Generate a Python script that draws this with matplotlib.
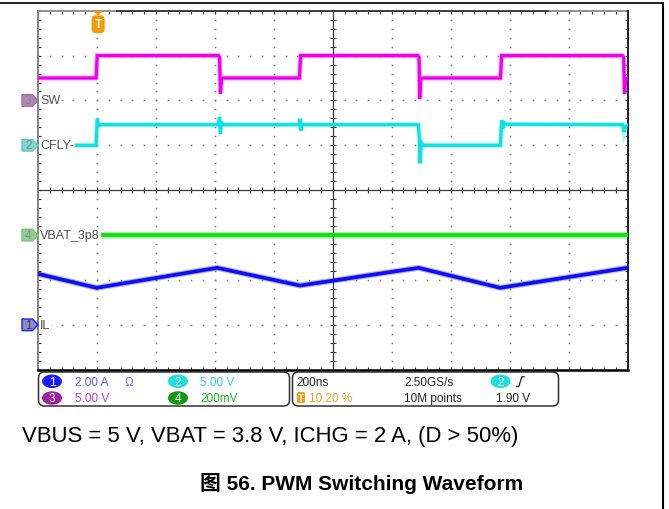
import matplotlib
matplotlib.use('Agg')
import matplotlib.pyplot as plt
import numpy as np
from matplotlib.patches import Polygon, FancyBboxPatch, Ellipse

# ---------------- data ----------------
ns_per_div = 200
n_hdiv = 10
n_vdiv = 8
trigger_pct = 10.20

# channel scales (per division) and ground-marker positions (divisions from bottom)
ch1_scale, ch1_pos = 2.0, 1.0    # IL, A/div
ch2_scale, ch2_pos = 5.0, 5.0    # CFLY-, V/div
ch3_scale, ch3_pos = 5.0, 6.0    # SW, V/div
ch4_scale, ch4_pos = 0.2, 3.0    # VBAT_3p8 (AC), V/div

# SW node (ch3), V vs ns
sw_t = [0, 197, 201, 612, 616, 619, 623, 629, 887, 891, 1289, 1293, 1295, 1299,
        1305, 1569, 1573, 1983, 1987, 1990, 1994, 2000]
sw_v = [2.5, 2.5, 5.0, 5.0, 4.8, 0.75, 2.4, 2.5, 2.5, 5.0, 5.0, 4.8, 0.2, 2.4,
        2.5, 2.5, 5.0, 5.0, 4.8, 0.75, 2.4, 2.5]

# CFLY- (ch2), V vs ns
cfly_t = [0, 197, 201, 206, 214, 612, 616, 619, 622, 627, 886, 889, 892, 896,
          1290, 1294, 1296, 1300, 1306, 1569, 1573, 1577, 1582, 1590, 1984, 1988,
          1993, 2000]
cfly_v = [0, 0, 2.95, 2.2, 2.3, 2.3, 3.15, 1.3, 2.6, 2.3, 2.3, 2.95, 1.65, 2.3,
          2.3, 0.8, -2.0, 0.3, 0.0, 0.0, 2.8, 1.9, 2.5, 2.35, 2.3, 1.5, 2.1, 2.2]

# VBAT ripple (ch4, AC coupled), V vs ns
vbat_t = [0, 2000]
vbat_v = [0.0, 0.0]

# inductor current (ch1), A vs ns
il_t = [0, 199, 608, 889, 1291, 1568, 2000]
il_v = [2.27, 1.65, 2.54, 1.75, 2.54, 1.65, 2.54]

labels = {'SW': ch3_pos, 'CFLY-': ch2_pos, 'VBAT_3p8': ch4_pos, 'IL': ch1_pos}

caption = 'VBUS = 5 V, VBAT = 3.8 V, ICHG = 2 A, (D > 50%)'
title = '图 56. PWM Switching Waveform'

# ---------------- layout ----------------
W, H = 669, 510
fig = plt.figure(figsize=(W / 100, H / 100), dpi=100)
fig.patch.set_facecolor('white')

gl, gr, gt, gb = 38.0, 627.5, 11.7, 370.7       # grid box in pixels
ax = fig.add_axes([gl / W, (H - gb) / H, (gr - gl) / W, (gb - gt) / H])
tmax = ns_per_div * n_hdiv
ax.set_xlim(0, tmax)
ax.set_ylim(0, n_vdiv)
ax.axis('off')

px_x = (gr - gl) / tmax        # pixels per ns
px_y = (gb - gt) / n_vdiv      # pixels per div

SCREEN_FONT = ['Liberation Sans', 'DejaVu Sans']

# dotted graticule
minor_x = np.arange(0, tmax + 1e-6, ns_per_div / 5)
minor_y = np.arange(0, n_vdiv + 1e-6, 0.2)
dot = '#7a7a7a'
for k in range(1, n_hdiv):
    if k == n_hdiv // 2:
        continue
    ax.plot(np.full_like(minor_y, k * ns_per_div), minor_y, ls='none',
            marker='s', ms=1.1, mew=0, color=dot, zorder=1)
for k in range(1, n_vdiv):
    if k == n_vdiv // 2:
        continue
    ax.plot(minor_x, np.full_like(minor_x, k), ls='none', marker='s', ms=1.1,
            mew=0, color=dot, zorder=1)

# centre cross with ticks
ax.axvline(tmax / 2, color='#3a3a3a', lw=0.9, zorder=1)
ax.axhline(n_vdiv / 2, color='#3a3a3a', lw=0.9, zorder=1)
ax.plot(minor_x, np.full_like(minor_x, n_vdiv / 2), ls='none', marker='|',
        ms=4.5, mew=0.8, color='#3a3a3a', zorder=1)
ax.plot(np.full_like(minor_y, tmax / 2), minor_y, ls='none', marker='_',
        ms=4.5, mew=0.8, color='#3a3a3a', zorder=1)

# border ticks (half visible through clipping)
for yy in (0, n_vdiv):
    ax.plot(minor_x, np.full_like(minor_x, yy), ls='none', marker='|', ms=5,
            mew=0.8, color='#303030', zorder=1)
for xx in (0, tmax):
    ax.plot(np.full_like(minor_y, xx), minor_y, ls='none', marker='_', ms=5,
            mew=0.8, color='#303030', zorder=1)

# border lines
ax.plot([0, 0], [0, n_vdiv], color='#7a7a7a', lw=1.3, clip_on=False, zorder=2)
ax.plot([0, tmax], [n_vdiv, n_vdiv], color='#8a8a8a', lw=1.3, clip_on=False, zorder=2)
ax.plot([(117 - gl) / px_x, (548 - gl) / px_x], [n_vdiv, n_vdiv], color='#3a3a3a',
        lw=1.3, clip_on=False, zorder=2)
ax.plot([0, tmax], [0, 0], color='black', lw=1.8, clip_on=False, zorder=2)
ax.plot([tmax, tmax], [0, n_vdiv], color='#202020', lw=1.4, clip_on=False, zorder=2)


def trace(t, v, pos, scale, color, core, halo):
    y = pos + np.asarray(v, float) / scale
    ax.plot(t, y, color=color, lw=halo, alpha=0.3, solid_joinstyle='miter', zorder=3)
    ax.plot(t, y, color=color, lw=core, solid_joinstyle='miter', zorder=4)


trace(sw_t, sw_v, ch3_pos, ch3_scale, '#ee00ee', 2.3, 3.8)
trace(cfly_t, cfly_v, ch2_pos, ch2_scale, '#10e0e0', 2.3, 3.8)
trace(vbat_t, vbat_v, ch4_pos, ch4_scale, '#18e018', 3.0, 5.0)
trace(il_t, il_v, ch1_pos, ch1_scale, '#1010ee', 2.7, 4.3)

# trace labels (white background hides trace start)
for name, pos in labels.items():
    ax.text(7, pos, name, fontsize=9, family=SCREEN_FONT, color='#505050',
            va='center', ha='left', zorder=6,
            bbox=dict(boxstyle='square,pad=0.08', fc='white', ec='none'))

# channel ground markers (tags left of the graticule)
markers = [(ch3_pos, '3', '#b585b5', '#a070a0', '#8a8a8a'),
           (ch2_pos, '2', '#7fd4d4', '#6cc4c4', '#8a8a8a'),
           (ch4_pos, '4', '#8fd08f', '#7cc07c', '#8a8a8a'),
           (ch1_pos, '1', '#8c8cc8', '#1a1aff', '#404040')]
for pos, num, fc, ec, tc in markers:
    x0 = -16 / px_x
    xb = -5.5 / px_x
    hh = 5.8 / px_y
    poly = Polygon([(x0, pos - hh), (xb, pos - hh), (0, pos), (xb, pos + hh),
                    (x0, pos + hh)], closed=True, fc=fc, ec=ec, lw=1.0,
                   clip_on=False, zorder=6)
    ax.add_patch(poly)
    ax.text((x0 + xb) / 2 + 1 / px_x, pos, num, fontsize=8.5, family=SCREEN_FONT,
            color=tc, ha='center', va='center', clip_on=False, zorder=7)

# trigger marker
t_trig = trigger_pct / 100 * tmax
ax.add_patch(Polygon([(t_trig - 5 / px_x, n_vdiv), (t_trig + 5 / px_x, n_vdiv),
                      (t_trig, n_vdiv - 5 / px_y)], closed=True, fc='#f59a00',
                     ec='none', clip_on=False, zorder=6))
ax.text(t_trig, n_vdiv - 13.5 / px_y, 'T', fontsize=8.5, weight='bold',
        family=SCREEN_FONT, color='white', ha='center', va='center', zorder=7,
        bbox=dict(boxstyle='round,pad=0.25,rounding_size=0.35', fc='#f59a00',
                  ec='none'))

# ---------------- overlay in pixel coordinates ----------------
ov = fig.add_axes([0, 0, 1, 1], zorder=5)
ov.set_xlim(0, W)
ov.set_ylim(H, 0)
ov.axis('off')
ov.patch.set_alpha(0)

# page frame
ov.plot([0, 663], [4, 4], color='black', lw=1.2)
ov.plot([662.5, 662.5], [4, H], color='black', lw=1.5)

# info boxes
for x0, x1 in ((38.5, 289.5), (292.5, 558.5)):
    ov.add_patch(FancyBboxPatch((x0 + 3, 376), x1 - x0 - 6, 28,
                                boxstyle='round,pad=3,rounding_size=6',
                                fc='white', ec='#303030', lw=1.1))

row1, row2 = 382.3, 399.0


def badge(x, y, num, color):
    ov.add_patch(Ellipse((x, y), 20, 13.5, fc=color, ec='none'))
    ov.text(x, y + 0.5, num, fontsize=8.5, family=SCREEN_FONT, color='white',
            ha='center', va='center')


def info(x, y, s, color='#202020'):
    ov.text(x, y + 0.5, s, fontsize=8.5, family=SCREEN_FONT, color=color,
            ha='left', va='center')


badge(52, row1, '1', '#1a1aff')
info(75, row1, '%.2f A' % ch1_scale, '#5a5aff')
info(125, row1, 'Ω', '#6a6aff')
badge(178, row1, '2', '#20dede')
info(200, row1, '%.2f V' % ch2_scale, '#30d8d8')
badge(52, row2, '3', '#a020a0')
info(75, row2, '%.2f V' % ch3_scale, '#c040c0')
badge(178, row2, '4', '#109a10')
info(200, row2, '%dmV' % round(ch4_scale * 1000), '#20b820')

info(296, row1, '%dns' % ns_per_div)
ov.add_patch(FancyBboxPatch((297.5, 393.5), 7, 10,
                            boxstyle='round,pad=0.5,rounding_size=1.5',
                            fc='#ff9a10', ec='none'))
ov.text(301.2, 399, 'T', fontsize=7.5, weight='bold', family=SCREEN_FONT,
        color='white', ha='center', va='center')
info(309, row2, '%.2f %%' % trigger_pct, '#ffa020')
info(404, row1, '2.50GS/s')
info(404, row2, '10M points')
badge(500.5, row1, '2', '#20dede')
ov.plot([516.5, 518.8, 521.8, 524.2], [387.5, 387.5, 377.8, 377.8],
        color='#202020', lw=0.9)
info(496.5, row2, '1.90 V')

# caption and figure title
ov.text(21.5, 437, caption, fontsize=15.9, family=['Liberation Sans', 'DejaVu Sans'],
        color='black', ha='left', va='center')
ov.text(362, 484, title, fontsize=15, weight='bold',
        family=['Liberation Sans', 'Noto Sans CJK SC', 'DejaVu Sans'],
        color='black', ha='center', va='center')

fig.savefig('out.png', dpi=100, facecolor='white')
